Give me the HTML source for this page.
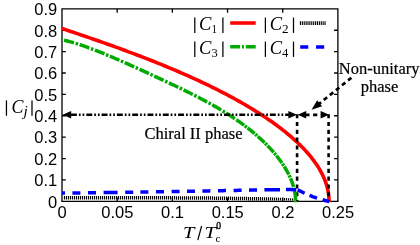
<!DOCTYPE html>
<html><head><meta charset="utf-8"><title>chart</title>
<style>
html,body{margin:0;padding:0;background:#fff;}
body{width:420px;height:245px;overflow:hidden;font-family:"Liberation Sans",sans-serif;}
svg{display:block;will-change:transform}
.tk text{font-family:"Liberation Sans",sans-serif;font-size:16.5px;fill:#000;}
.sf{font-family:"Liberation Serif",serif;fill:#000;}
</style></head><body>
<svg width="420" height="245" viewBox="0 0 420 245">
<rect width="420" height="245" fill="#fff"/>
<!-- axes -->
<g fill="none" stroke="#000" stroke-width="1.3">
<path d="M62.0,201.3 V8.85 H337.9 V201.3"/><path d="M61.4,201.3 H338.5" stroke-width="1.15"/>
<path d="M117.18,201.3 v-3.8 M117.18,8.85 v3.8"/>
<path d="M172.36,201.3 v-3.8 M172.36,8.85 v3.8"/>
<path d="M227.54,201.3 v-3.8 M227.54,8.85 v3.8"/>
<path d="M282.72,201.3 v-3.8 M282.72,8.85 v3.8"/>
<path d="M62.0,179.92 h3.8 M337.9,179.92 h-3.8"/>
<path d="M62.0,158.53 h3.8 M337.9,158.53 h-3.8"/>
<path d="M62.0,137.15 h3.8 M337.9,137.15 h-3.8"/>
<path d="M62.0,115.77 h3.8 M337.9,115.77 h-3.8"/>
<path d="M62.0,94.38 h3.8 M337.9,94.38 h-3.8"/>
<path d="M62.0,73.00 h3.8 M337.9,73.00 h-3.8"/>
<path d="M62.0,51.62 h3.8 M337.9,51.62 h-3.8"/>
<path d="M62.0,30.23 h3.8 M337.9,30.23 h-3.8"/>
</g>
<!-- curves -->
<g fill="none" stroke-linejoin="round">
<path d="M62.00,28.48 L64.43,29.29 L66.85,30.11 L69.26,30.92 L71.66,31.72 L74.05,32.53 L76.43,33.34 L78.80,34.14 L81.15,34.94 L83.49,35.74 L85.83,36.54 L88.15,37.34 L90.46,38.14 L92.76,38.93 L95.05,39.73 L97.32,40.52 L99.59,41.31 L101.84,42.11 L104.09,42.90 L106.32,43.69 L108.54,44.48 L110.75,45.27 L112.95,46.06 L115.14,46.85 L117.31,47.63 L119.48,48.42 L121.63,49.21 L123.78,50.00 L125.91,50.78 L128.03,51.57 L130.14,52.36 L132.24,53.14 L134.33,53.93 L136.40,54.71 L138.47,55.50 L140.52,56.29 L142.57,57.07 L144.60,57.86 L146.62,58.64 L148.63,59.43 L150.63,60.21 L152.61,61.00 L154.59,61.79 L156.56,62.57 L158.51,63.36 L160.45,64.14 L162.38,64.93 L164.31,65.72 L166.21,66.50 L168.11,67.29 L170.00,68.08 L171.88,68.86 L173.74,69.65 L175.60,70.44 L177.44,71.23 L179.27,72.02 L181.09,72.81 L182.90,73.59 L184.70,74.38 L186.48,75.17 L188.26,75.96 L190.02,76.75 L191.78,77.54 L193.52,78.33 L195.25,79.12 L196.97,79.92 L198.68,80.71 L200.38,81.50 L202.07,82.29 L203.74,83.08 L205.41,83.88 L207.06,84.67 L208.70,85.46 L210.33,86.25 L211.95,87.05 L213.56,87.84 L215.16,88.64 L216.75,89.43 L218.32,90.23 L219.89,91.02 L221.44,91.82 L222.98,92.61 L224.51,93.41 L226.03,94.20 L227.54,95.00 L229.04,95.79 L230.52,96.59 L232.00,97.39 L233.46,98.18 L234.92,98.98 L236.36,99.78 L237.79,100.57 L239.21,101.37 L240.62,102.17 L242.02,102.96 L243.40,103.76 L244.78,104.56 L246.14,105.36 L247.49,106.15 L248.83,106.95 L250.17,107.75 L251.48,108.55 L252.79,109.34 L254.09,110.14 L255.38,110.94 L256.65,111.74 L257.91,112.53 L259.17,113.33 L260.41,114.13 L261.64,114.93 L262.86,115.73 L264.07,116.52 L265.26,117.32 L266.45,118.12 L267.62,118.91 L268.79,119.71 L269.94,120.51 L271.08,121.31 L272.21,122.10 L273.33,122.90 L274.44,123.70 L275.53,124.49 L276.62,125.29 L277.69,126.08 L278.76,126.88 L279.81,127.68 L280.85,128.47 L281.88,129.27 L282.90,130.06 L283.91,130.86 L284.90,131.65 L285.89,132.45 L286.86,133.24 L287.83,134.04 L288.78,134.83 L289.72,135.62 L290.65,136.42 L291.57,137.21 L292.47,138.00 L293.37,138.79 L294.26,139.59 L295.13,140.38 L295.99,141.17 L296.84,141.96 L297.69,142.75 L298.51,143.54 L299.33,144.33 L300.14,145.12 L300.94,145.91 L301.72,146.70 L302.50,147.49 L303.26,148.28 L304.01,149.07 L304.75,149.86 L305.48,150.65 L306.20,151.43 L306.90,152.22 L307.60,153.01 L308.29,153.80 L308.96,154.58 L309.62,155.37 L310.27,156.15 L310.91,156.94 L311.54,157.73 L312.16,158.51 L312.77,159.30 L313.36,160.08 L313.95,160.86 L314.52,161.65 L315.08,162.43 L315.63,163.21 L316.17,164.00 L316.70,164.78 L317.22,165.56 L317.73,166.34 L318.22,167.12 L318.71,167.91 L319.18,168.69 L319.64,169.47 L320.09,170.25 L320.53,171.03 L320.96,171.81 L321.38,172.59 L321.79,173.37 L322.18,174.15 L322.56,174.92 L322.94,175.70 L323.30,176.48 L323.65,177.26 L323.99,178.04 L324.32,178.81 L324.64,179.59 L324.94,180.37 L325.24,181.15 L325.52,181.92 L325.79,182.70 L326.06,183.48 L326.31,184.25 L326.54,185.03 L326.77,185.80 L326.99,186.58 L327.20,187.36 L327.39,188.13 L327.57,188.91 L327.75,189.68 L327.91,190.46 L328.06,191.23 L328.20,192.01 L328.33,192.78 L328.44,193.56 L328.55,194.33 L328.64,195.11 L328.73,195.88 L328.80,196.65 L328.86,197.43 L328.91,198.20 L328.95,198.98 L328.98,199.75 L328.99,200.53 L329.00,201.30 L329.00,202.30" stroke="#ff0000" stroke-width="3.6"/>
<path d="M297.1,114.2 V201 M328.6,114.2 V201" stroke="#000" stroke-width="2.6" stroke-dasharray="4.1 3.7"/>
<path d="M64.50,195.95V199.45M66.50,195.95V199.45M68.50,195.95V199.45M70.50,195.95V199.45M72.50,195.95V199.45M74.50,195.95V199.45M76.50,195.95V199.45M78.50,195.95V199.45M80.50,195.96V199.46M82.50,195.96V199.46M84.50,195.96V199.46M86.50,195.96V199.46M88.50,195.96V199.46M90.50,195.96V199.46M92.50,195.96V199.46M94.50,195.97V199.47M96.50,195.97V199.47M98.50,195.97V199.47M100.50,195.97V199.47M102.50,195.98V199.48M104.50,195.98V199.48M106.50,195.98V199.48M108.50,195.98V199.48M110.50,195.99V199.49M112.50,195.99V199.49M114.50,195.99V199.49M116.50,195.99V199.49M118.50,196.00V199.50M120.50,196.00V199.50M122.50,196.00V199.50M124.50,196.01V199.51M126.50,196.01V199.51M128.50,196.01V199.51M130.50,196.02V199.52M132.50,196.02V199.52M134.50,196.02V199.52M136.50,196.03V199.53M138.50,196.03V199.53M140.50,196.03V199.53M142.50,196.04V199.54M144.50,196.04V199.54M146.50,196.04V199.54M148.50,196.05V199.55M150.50,196.05V199.55M152.50,196.05V199.55M154.50,196.06V199.56M156.50,196.06V199.56M158.50,196.07V199.57M160.50,196.07V199.57M162.50,196.08V199.58M164.50,196.09V199.59M166.50,196.09V199.59M168.50,196.10V199.60M170.50,196.11V199.61M172.50,196.11V199.61M174.50,196.12V199.62M176.50,196.13V199.63M178.50,196.14V199.64M180.50,196.15V199.65M182.50,196.16V199.66M184.50,196.16V199.66M186.50,196.17V199.67M188.50,196.18V199.68M190.50,196.20V199.70M192.50,196.21V199.71M194.50,196.22V199.72M196.50,196.23V199.73M198.50,196.24V199.74M200.50,196.25V199.75M202.50,196.27V199.77M204.50,196.28V199.78M206.50,196.30V199.80M208.50,196.32V199.82M210.50,196.34V199.84M212.50,196.36V199.86M214.50,196.38V199.88M216.50,196.41V199.91M218.50,196.43V199.93M220.50,196.46V199.96M222.50,196.49V199.99M224.50,196.52V200.02M226.50,196.54V200.04M228.50,196.57V200.07M230.50,196.60V200.10M232.50,196.63V200.13M234.50,196.66V200.16M236.50,196.70V200.20M238.50,196.73V200.23M240.50,196.76V200.26M242.50,196.79V200.29M244.50,196.82V200.32M246.50,196.85V200.35M248.50,196.89V200.39M250.50,196.92V200.40M252.50,196.96V200.40M254.50,196.99V200.40M256.50,197.03V200.40M258.50,197.07V200.40M260.50,197.11V200.40M262.50,197.16V200.40M264.50,197.21V200.40M266.50,197.26V200.40M268.50,197.31V200.40M270.50,197.36V200.40M272.50,197.43V200.40M274.50,197.49V200.40M276.50,197.57V200.40M278.50,197.65V200.40M280.50,197.74V200.40M282.50,197.83V200.40M284.50,197.94V200.40M286.50,198.04V200.40M288.50,198.16V200.40M290.50,198.28V200.40M292.50,198.43V200.40M294.50,198.61V200.40" stroke="#000" stroke-width="1.15" fill="none"/>
<path d="M62.00,39.77 L64.13,40.25 L66.25,40.75 L68.36,41.28 L70.46,41.84 L72.54,42.43 L74.62,43.04 L76.69,43.67 L78.75,44.32 L80.81,44.99 L82.85,45.68 L84.88,46.38 L86.90,47.10 L88.91,47.82 L90.91,48.56 L92.90,49.32 L94.89,50.08 L96.86,50.84 L98.82,51.62 L100.78,52.40 L102.72,53.19 L104.65,53.98 L106.58,54.78 L108.49,55.58 L110.39,56.39 L112.29,57.19 L114.17,58.00 L116.05,58.81 L117.91,59.62 L119.77,60.43 L121.62,61.24 L123.45,62.05 L125.28,62.86 L127.10,63.67 L128.90,64.47 L130.70,65.28 L132.49,66.08 L134.27,66.88 L136.03,67.68 L137.79,68.48 L139.54,69.27 L141.28,70.06 L143.01,70.85 L144.73,71.64 L146.44,72.42 L148.14,73.20 L149.83,73.98 L151.51,74.75 L153.18,75.52 L154.84,76.29 L156.49,77.05 L158.13,77.81 L159.76,78.57 L161.39,79.33 L163.00,80.08 L164.60,80.83 L166.19,81.58 L167.78,82.32 L169.35,83.07 L170.91,83.81 L172.47,84.54 L174.01,85.28 L175.54,86.01 L177.07,86.74 L178.58,87.47 L180.09,88.20 L181.58,88.93 L183.07,89.65 L184.54,90.37 L186.01,91.10 L187.47,91.82 L188.91,92.54 L190.35,93.25 L191.78,93.97 L193.20,94.69 L194.60,95.40 L196.00,96.12 L197.39,96.84 L198.77,97.55 L200.14,98.26 L201.49,98.98 L202.84,99.69 L204.18,100.41 L205.51,101.12 L206.83,101.84 L208.14,102.55 L209.44,103.27 L210.73,103.98 L212.02,104.70 L213.29,105.42 L214.55,106.13 L215.80,106.85 L217.04,107.57 L218.27,108.29 L219.50,109.01 L220.71,109.74 L221.91,110.46 L223.11,111.18 L224.29,111.91 L225.46,112.63 L226.63,113.36 L227.78,114.09 L228.93,114.82 L230.06,115.55 L231.19,116.28 L232.30,117.01 L233.41,117.75 L234.50,118.48 L235.59,119.22 L236.67,119.96" stroke="#00aa00" stroke-width="3.5" stroke-dasharray="10.3 1.7 2.5 1.7" stroke-dashoffset="14.1"/>
<path d="M236.67,119.96 L237.73,120.70 L238.79,121.44 L239.84,122.18 L240.87,122.92 L241.90,123.67 L242.92,124.41 L243.93,125.16 L244.93,125.91 L245.91,126.66 L246.89,127.41 L247.86,128.16 L248.82,128.91 L249.77,129.66 L250.71,130.41 L251.64,131.17 L252.56,131.92 L253.47,132.68 L254.38,133.44 L255.27,134.20 L256.15,134.95 L257.02,135.71 L257.88,136.47 L258.73,137.23 L259.58,137.99 L260.41,138.75 L261.23,139.52 L262.05,140.28 L262.85,141.04 L263.64,141.80 L264.43,142.56 L265.20,143.33 L265.97,144.09 L266.72,144.85 L267.47,145.61 L268.20,146.38 L268.93,147.14 L269.64,147.90 L270.35,148.66 L271.05,149.43 L271.73,150.19 L272.41,150.95 L273.08,151.71 L273.74,152.47 L274.38,153.23 L275.02,153.99 L275.65,154.75 L276.27,155.51 L276.88,156.26 L277.48,157.02 L278.07,157.78 L278.65,158.53 L279.22,159.29 L279.78,160.04 L280.33,160.79 L280.87,161.54 L281.40,162.29 L281.92,163.04 L282.43,163.79 L282.93,164.54 L283.42,165.29 L283.91,166.03 L284.38,166.78 L284.84,167.52 L285.29,168.26 L285.74,169.00 L286.17,169.74 L286.59,170.48 L287.01,171.22 L287.41,171.96 L287.81,172.69 L288.19,173.42 L288.57,174.16 L288.93,174.89 L289.29,175.62 L289.63,176.35 L289.97,177.08 L290.30,177.80 L290.61,178.53 L290.92,179.25 L291.22,179.98 L291.50,180.70 L291.78,181.42 L292.05,182.14 L292.31,182.86 L292.56,183.58 L292.79,184.30 L293.02,185.01 L293.24,185.73 L293.45,186.44 L293.65,187.16 L293.84,187.87 L294.02,188.58 L294.19,189.29 L294.35,190.00 L294.50,190.71 L294.65,191.42 L294.78,192.13 L294.90,192.84 L295.01,193.54 L295.11,194.25 L295.21,194.96 L295.29,195.66 L295.36,196.37 L295.42,197.07 L295.48,197.78 L295.52,198.48 L295.56,199.19 L295.58,199.89 L295.60,200.60 L295.60,201.30 L295.60,202.30" stroke="#00aa00" stroke-width="3.5" stroke-dasharray="9.2 0.9 2.4 0.9" stroke-dashoffset="0"/>
<path d="M62.00,193.10 L63.50,193.08 L65.00,193.07M72.40,192.99 L74.00,192.97 L75.60,192.95 L77.20,192.93 L78.80,192.91 L80.40,192.90M88.00,192.80 L89.60,192.79 L91.20,192.77 L92.80,192.75 L94.40,192.73 L96.00,192.71M103.60,192.61 L105.16,192.59 L106.71,192.57 L108.27,192.55 L109.82,192.53 L111.38,192.50 L112.93,192.48 L114.49,192.46 L116.04,192.44 L117.60,192.42M125.20,192.31 L126.80,192.29 L128.40,192.27 L130.00,192.25 L131.60,192.22 L133.20,192.20M140.40,192.09 L142.00,192.07 L143.60,192.05 L145.20,192.02 L146.80,192.00 L148.40,191.97M156.00,191.85 L157.60,191.82 L159.20,191.79 L160.80,191.76 L162.40,191.74 L164.00,191.71M171.60,191.57 L173.20,191.54 L174.80,191.51 L176.40,191.48 L178.00,191.45 L179.60,191.42M187.00,191.29 L188.60,191.26 L190.20,191.23 L191.80,191.20 L193.40,191.17 L195.00,191.14M202.40,191.01 L204.00,190.98 L205.60,190.95 L207.20,190.92 L208.80,190.89 L210.40,190.86M218.00,190.73 L219.60,190.71 L221.20,190.68 L222.80,190.65 L224.40,190.62 L226.00,190.59M233.60,190.45 L235.20,190.41 L236.80,190.38 L238.40,190.35 L240.00,190.31 L241.60,190.28M249.00,190.13 L250.60,190.09 L252.20,190.06 L253.80,190.03 L255.40,190.00 L257.00,189.97M264.40,189.84 L265.96,189.81 L267.52,189.79 L269.08,189.76 L270.64,189.74 L272.20,189.72 L273.76,189.70 L275.32,189.68 L276.88,189.67 L278.44,189.65 L280.00,189.64M286.00,189.61 L287.72,189.60 L289.43,189.60 L291.15,189.61 L292.87,189.66 L294.58,189.75 L296.30,189.86M297.60,190.02 L299.35,190.63 L301.10,191.52 L302.85,192.46 L304.60,193.25M309.50,195.34 L311.00,195.95 L312.50,196.53 L314.00,197.06 L315.50,197.58 L317.00,198.07M322.60,199.78 L324.25,200.26 L325.90,200.72 L327.55,201.17 L329.20,201.60" stroke="#0000ff" stroke-width="3.5"/>
</g>
<!-- annotation lines -->
<g fill="none" stroke="#000">
<path d="M70,114.8 H290" stroke-width="2.5" stroke-dasharray="5.9 2.0 1.7 2.0 1.7 2.0" stroke-dashoffset="14.3"/>
<path d="M305.3,114.8 H321" stroke-width="2.7" stroke-dasharray="4.2 3.6"/>
<path d="M351.4,77.7 L318,104.7" stroke-width="2.7" stroke-dasharray="4.3 3.5"/>
</g>
<path d="M62.60,114.80 L71.20,111.10 L71.20,118.50 Z" fill="#000" stroke="none"/>
<path d="M297.00,114.80 L288.40,118.50 L288.40,111.10 Z" fill="#000" stroke="none"/>
<path d="M297.60,114.80 L306.20,111.10 L306.20,118.50 Z" fill="#000" stroke="none"/>
<path d="M329.20,114.80 L320.60,118.50 L320.60,111.10 Z" fill="#000" stroke="none"/>
<path d="M311.60,109.80 L317.17,100.30 L322.07,106.37 Z" fill="#000" stroke="none"/>
<g class="tk">
<text x="62.20" y="217.5" text-anchor="middle">0</text>
<text x="117.38" y="217.5" text-anchor="middle">0.05</text>
<text x="172.56" y="217.5" text-anchor="middle">0.1</text>
<text x="227.74" y="217.5" text-anchor="middle">0.15</text>
<text x="282.92" y="217.5" text-anchor="middle">0.2</text>
<text x="338.10" y="217.5" text-anchor="middle">0.25</text>
<text x="57.2" y="207.60" text-anchor="end">0</text>
<text x="57.2" y="186.22" text-anchor="end">0.1</text>
<text x="57.2" y="164.83" text-anchor="end">0.2</text>
<text x="57.2" y="143.45" text-anchor="end">0.3</text>
<text x="57.2" y="122.07" text-anchor="end">0.4</text>
<text x="57.2" y="100.68" text-anchor="end">0.5</text>
<text x="57.2" y="79.30" text-anchor="end">0.6</text>
<text x="57.2" y="57.92" text-anchor="end">0.7</text>
<text x="57.2" y="36.53" text-anchor="end">0.8</text>
<text x="57.2" y="15.15" text-anchor="end">0.9</text>
</g>
<!-- legend -->
<path d="M194.80,17.60 V32.90" stroke="#000" stroke-width="1.25" fill="none"/>
<path d="M222.90,17.60 V32.90" stroke="#000" stroke-width="1.25" fill="none"/>
<text transform="translate(199.07,29.53) scale(1.011,1)" font-family='"Liberation Serif"' font-style="italic" font-size="18.32" fill="#000">C</text>
<text transform="translate(211.78,32.80) scale(0.890,1)" font-family='"Liberation Serif"' font-style="normal" font-size="11.82" fill="#000">1</text>
<path d="M265.40,17.60 V32.90" stroke="#000" stroke-width="1.25" fill="none"/>
<path d="M293.50,17.60 V32.90" stroke="#000" stroke-width="1.25" fill="none"/>
<text transform="translate(269.67,29.53) scale(1.011,1)" font-family='"Liberation Serif"' font-style="italic" font-size="18.32" fill="#000">C</text>
<text transform="translate(281.92,32.88) scale(1.100,1)" font-family='"Liberation Serif"' font-style="normal" font-size="12.02" fill="#000">2</text>
<path d="M194.80,41.60 V56.90" stroke="#000" stroke-width="1.25" fill="none"/>
<path d="M222.90,41.60 V56.90" stroke="#000" stroke-width="1.25" fill="none"/>
<text transform="translate(199.07,53.53) scale(1.011,1)" font-family='"Liberation Serif"' font-style="italic" font-size="18.32" fill="#000">C</text>
<text transform="translate(211.60,56.88) scale(1.057,1)" font-family='"Liberation Serif"' font-style="normal" font-size="11.91" fill="#000">3</text>
<path d="M265.40,41.60 V56.90" stroke="#000" stroke-width="1.25" fill="none"/>
<path d="M293.50,41.60 V56.90" stroke="#000" stroke-width="1.25" fill="none"/>
<text transform="translate(269.67,53.53) scale(1.011,1)" font-family='"Liberation Serif"' font-style="italic" font-size="18.32" fill="#000">C</text>
<text transform="translate(281.95,56.80) scale(1.071,1)" font-family='"Liberation Serif"' font-style="normal" font-size="11.85" fill="#000">4</text>
<g fill="none">
<path d="M230.2,23.0 H255.7" stroke="#ff0000" stroke-width="3.6"/>
<path d="M230.2,46.8 H255.7" stroke="#00aa00" stroke-width="3.5" stroke-dasharray="9.9 1.9 1.9 1.9 9.9"/>
<path d="M300.45,21.30V24.90M302.34,21.30V24.90M304.23,21.30V24.90M306.13,21.30V24.90M308.02,21.30V24.90M309.91,21.30V24.90M311.80,21.30V24.90M313.70,21.30V24.90M315.59,21.30V24.90M317.48,21.30V24.90M319.37,21.30V24.90M321.27,21.30V24.90M323.16,21.30V24.90M325.05,21.30V24.90" stroke="#000" stroke-width="1.1" fill="none"/>
<path d="M300.2,46.9 H324.2" stroke="#0000ff" stroke-width="3.5" stroke-dasharray="8.1 7.8"/>
</g>
<!-- y label -->
<path d="M6.45,100.40 V115.80" stroke="#000" stroke-width="1.25" fill="none"/>
<path d="M32.00,100.40 V115.80" stroke="#000" stroke-width="1.25" fill="none"/>
<text transform="translate(11.40,112.83) scale(0.984,1)" font-family='"Liberation Serif"' font-style="italic" font-size="18.17" fill="#000">C</text>
<text transform="translate(23.42,115.60) scale(1.100,1)" font-family='"Liberation Serif"' font-style="italic" font-size="14.04" fill="#000">j</text>
<!-- x label -->
<text transform="translate(183.11,238.20) scale(1.160,1)" font-family='"Liberation Serif"' font-style="italic" font-size="17.72" fill="#000">T</text>
<path d="M197.8,240.2 L201.6,226.0" stroke="#000" stroke-width="1.2" fill="none"/>
<text transform="translate(204.41,238.20) scale(1.160,1)" font-family='"Liberation Serif"' font-style="italic" font-size="17.72" fill="#000">T</text>
<text stroke="#000" stroke-width="0.35" transform="translate(216.13,229.01) scale(1.020,1)" font-family='"Liberation Serif"' font-style="normal" font-size="9.48" fill="#000">0</text>
<text transform="translate(215.51,241.82) scale(1.100,1)" font-family='"Liberation Serif"' font-style="normal" font-size="10.04" fill="#000">c</text>
<g class="sf" font-size="16.5" stroke="#000" stroke-width="0.2">
<text x="144.5" y="138.9">Chiral II phase</text>
<text x="379.2" y="73.6" text-anchor="middle">Non-unitary</text>
<text x="379.6" y="91.5" text-anchor="middle">phase</text>
</g>
</svg>
</body></html>
